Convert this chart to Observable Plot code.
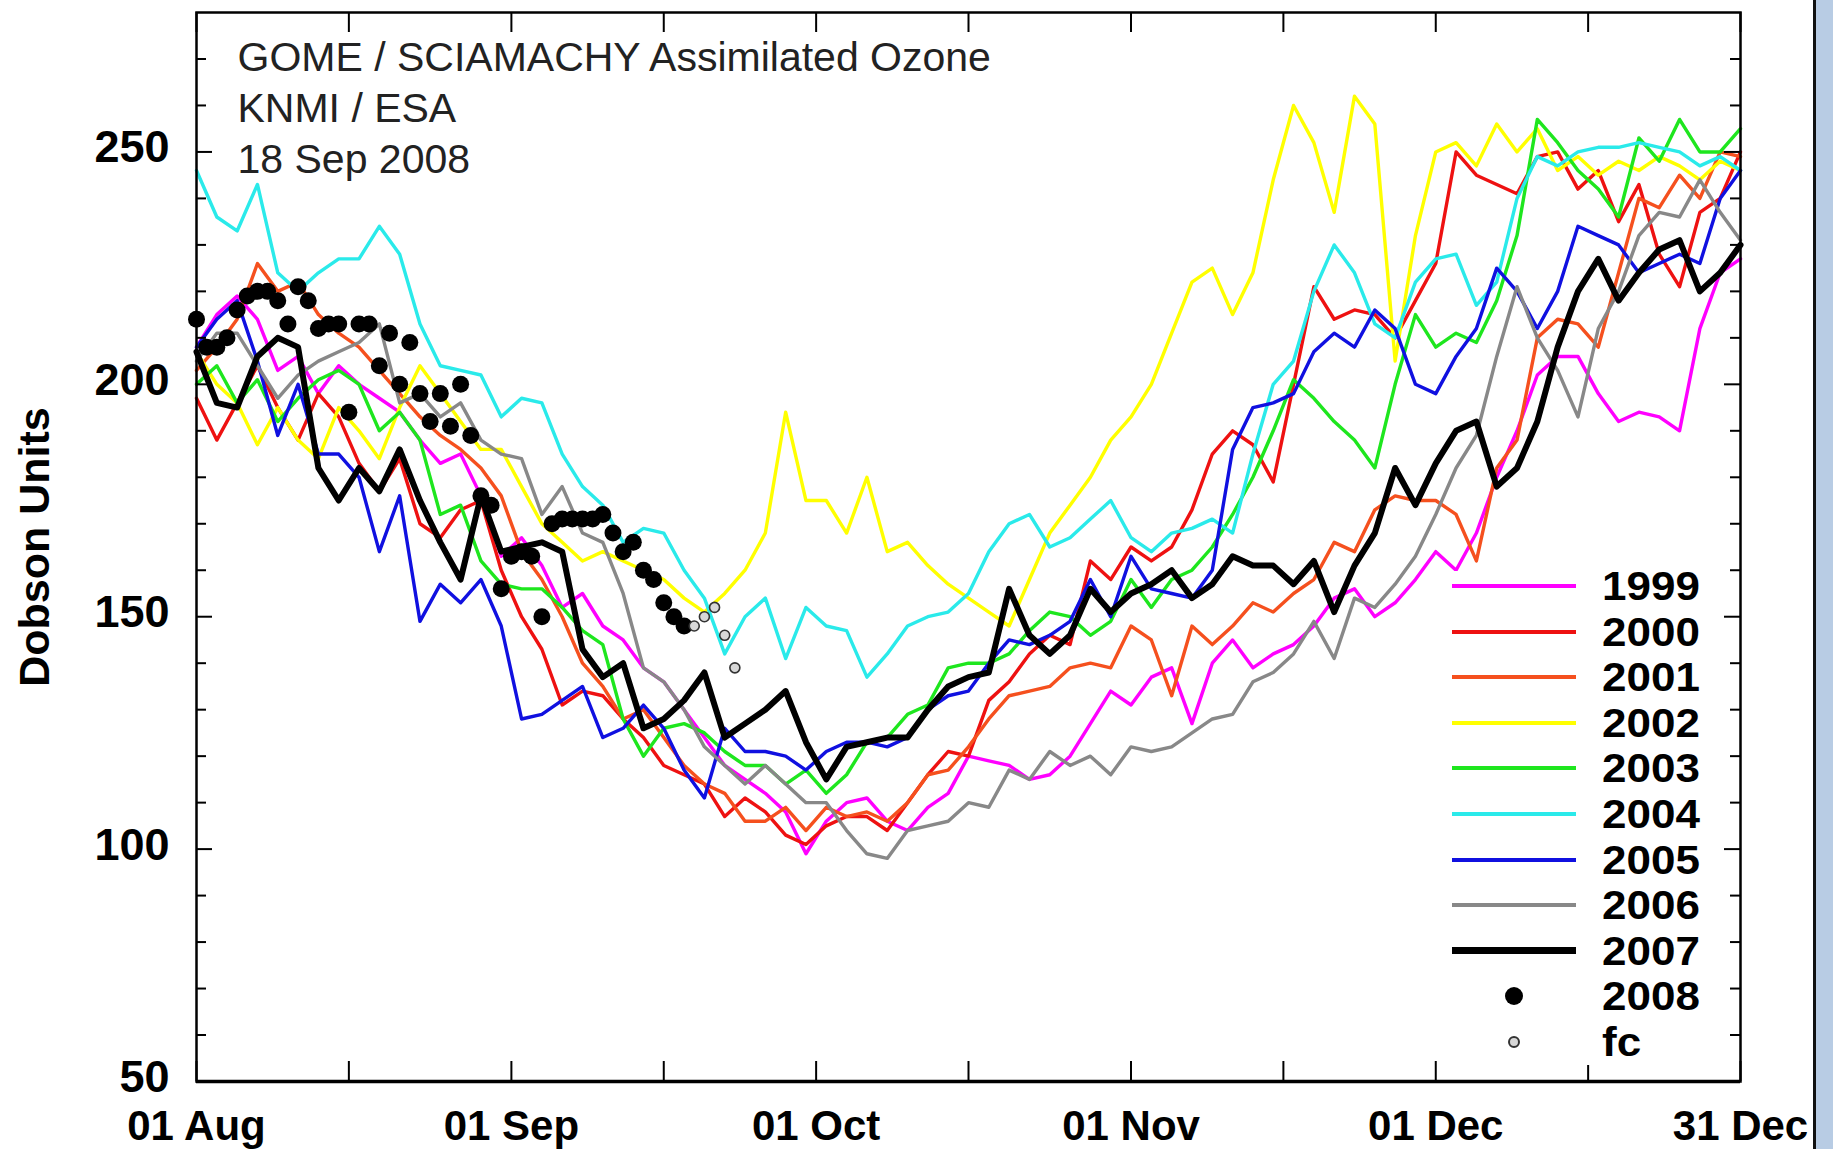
<!DOCTYPE html>
<html><head><meta charset="utf-8">
<script src="https://cdn.jsdelivr.net/npm/d3@7"></script>
<script src="https://cdn.jsdelivr.net/npm/@observablehq/plot@0.6"></script>
<style>
body{margin:0;background:#fff;}
#wrap{position:relative;width:1833px;height:1149px;overflow:hidden;font-family:"Liberation Sans",Arial,Helvetica,sans-serif;}
#strip{position:absolute;left:1813px;top:0;width:20px;height:1149px;background:#b8cce4;border-left:3px solid #111;box-sizing:border-box;}
#legbox{position:absolute;left:1447px;top:571px;width:266px;height:494px;background:#fff;}
.lrow{position:absolute;left:1452px;height:42px;width:260px;}
.ltxt{position:absolute;left:150px;top:0;line-height:42px;font-size:40px;font-weight:bold;color:#000;font-family:"Liberation Sans",Arial,sans-serif;transform:scaleX(1.1);transform-origin:left center;}
</style></head><body><div id="wrap"></div>
<script>
// day index: 0 = 01 Aug, 152 = 31 Dec (values every 2 days)
const days = [0,2,4,6,8,10,12,14,16,18,20,22,24,26,28,30,32,34,36,38,40,42,44,46,48,50,52,54,56,58,60,62,64,66,68,70,72,74,76,78,80,82,84,86,88,90,92,94,96,98,100,102,104,106,108,110,112,114,116,118,120,122,124,126,128,130,132,134,136,138,140,142,144,146,148,150,152];

const y1999 = [208,215,219,214,203,206,198,204,200,197,194, 188,183,185,176,163,167,161,152,155,148, 145,139,136,130,124,118,115,112,108,99, 106,110,111,106,104,109,112,120,119,118, 115,116,120,127,134,131,137,139,127,140, 145,139,142,144,148,154,156,150,153,158, 164,160,168,180,190,202,206,206,198,192, 194,193,190,212,224,227];
const y2000 = [197,188,196,204,195,188,198,193,183,177,184, 170,167,173,175,160,150,143,131,134,133, 128,124,118,116,114,107,111,108,103,101, 105,107,107,104,110,116,121,120,132,136, 142,146,144,162,158,165,162,165,173,185, 190,187,179,200,221,214,216,215,210,218, 226,250,245,243,241,249,250,242,246,235, 243,228,221,237,240,250];
const y2001 = [203,208,214,226,220,222,215,211,208,203,198, 193,189,186,182,176,164,158,150,140,135, 128,130,124,118,114,112,106,106,109,104, 109,107,108,106,110,116,117,122,128,133, 134,135,139,140,139,148,145,133,148,144, 148,153,151,155,158,166,164,173,176,175, 175,172,162,182,188,210,214,213,208,224, 240,238,245,240,250,249];
const y2002 = [207,200,196,187,195,188,184,195,190,184,195, 204,198,192,186,186,178,170,166,162,164, 162,160,158,154,151,155,160,168,194,175, 175,168,180,164,166,161,157,154,151,148, 158,168,174,180,188,193,200,211,222,225, 215,224,244,260,252,237,262,256,205,232, 250,252,247,256,250,255,246,249,245,248, 246,249,247,244,248,246];
const y2003 = [200,204,196,201,192,197,201,203,200,190,194, 188,172,174,162,157,156,156,152,147,144, 128,120,126,127,125,121,118,118,114,117, 112,116,123,124,129,131,139,140,140,142, 147,151,150,146,149,158,152,158,160,165, 172,180,190,201,197,192,188,182,200,215, 208,211,209,218,232,257,252,246,242,236, 253,248,257,250,250,255];
const y2004 = [246,236,233,243,224,220,224,227,227,234,228, 213,204,203,202,193,197,196,185,178,174, 166,169,168,160,154,142,150,154,141,152, 148,147,137,142,148,150,151,155,164,170, 172,165,167,171,175,167,164,168,169,171, 168,185,200,205,220,230,224,213,210,222, 227,228,217,222,240,249,247,250,251,251, 252,251,250,247,249,246];
const y2005 = [208,214,218,205,189,200,185,185,180,164,176, 149,157,153,158,148,128,129,132,135,124, 126,131,126,117,111,126,121,121,120,117, 121,123,123,122,124,130,133,134,140,145, 144,146,149,158,150,163,156,155,154,160, 186,195,196,198,207,211,208,216,212,200, 198,206,212,225,220,212,220,234,232,230, 224,226,228,226,240,246];
const y2006 = [205,211,211,204,197,202,205,207,209,213,196, 198,193,196,188,185,184,172,178,168,166, 155,139,136,130,122,118,114,118,114,110, 110,104,99,98,104,105,106,110,109,117, 115,121,118,120,116,122,121,122,125,128, 129,136,138,142,149,141,154,152,157,163, 172,182,189,206,221,210,203,193,212,220, 232,237,236,244,237,231];
const y2007 = [207,196,195,206,210,208,182,175,182,177,186, 175,166,158,176,164,165,166,164,143,137, 140,126,128,132,138,124,127,130,134,123, 115,122,123,124,124,130,135,137,138,156, 146,142,146,156,151,155,157,160,154,157, 163,161,161,157,162,151,161,168,182,174, 183,190,192,178,182,192,208,220,227,218, 224,229,231,220,224,230];

// 2008 daily observations (day 0..48) and forecast
const days2008 = [0,1,2,3,4,5,6,7,8,9,10,11,12,13,14,15,16,17,18,19,20,21,22,23,24,25,26,27,28,29,30,31,32,33,34,35,36,37,38,39,40,41,42,43,44,45,46,47,48];
const v2008 = [214,208,208,210,216,219,220,220,218,213, 221,218,212,213,213,194,213,213,204,211, 200,209,198,192,198,191,200,189,176,174, 156,163,164,163,150,170,171,171,171,171, 172,168,164,166,160,158,153,150,148];
const daysFc = [49,50,51,52,53];
const vFc = [148,150,152,146,139];

const seriesNames = ["1999","2000","2001","2002","2003","2004","2005","2006","2007"];
const seriesColors = ["#ff00ff","#ee1111","#f5501e","#ffff00","#1ee61e","#2aeaea","#1010e0","#888888","#000000"];
const series = [y1999,y2000,y2001,y2002,y2003,y2004,y2005,y2006,y2007];

const xTicks = [0,15,31,46,61,76,92,107,122,137,152];
const xLabelDays = [0,31,61,92,122,152];
const xLabels = ["01 Aug","01 Sep","01 Oct","01 Nov","01 Dec","31 Dec"];
const yLabels = [50,100,150,200,250];
const yMinor = [60,70,80,90,110,120,130,140,160,170,180,190,210,220,230,240,260,270];
const titleLines = ["GOME / SCIAMACHY Assimilated Ozone","KNMI / ESA","18 Sep 2008"];
const yTitle = "Dobson Units";

const W = 1833, H = 1149, mL = 196, mR = 93, mT = 12, mB = 68;
const innerW = W - mL - mR, innerH = H - mT - mB;

const marks = [];
series.forEach((vals, i) => {
  const rows = days.map((d, j) => ({day: d, value: vals[j]}));
  marks.push(Plot.line(rows, {x: "day", y: "value", stroke: seriesColors[i], strokeWidth: i === 8 ? 6 : 3.4, strokeLinejoin: "round"}));
});
marks.push(Plot.dot(days2008.map((d, j) => ({day: d, value: v2008[j]})), {x: "day", y: "value", r: 8.5, fill: "#000"}));
marks.push(Plot.dot(daysFc.map((d, j) => ({day: d, value: vFc[j]})), {x: "day", y: "value", r: 5, fill: "#d8d8d8", stroke: "#333", strokeWidth: 1.6}));

// ticks (inward, on all four sides)
marks.push(Plot.tickX(xTicks, {x: d => d, insetTop: innerH - 20, stroke: "#000", strokeWidth: 2}));
marks.push(Plot.tickX(xTicks, {x: d => d, insetBottom: innerH - 20, stroke: "#000", strokeWidth: 2}));
marks.push(Plot.tickY(yLabels, {y: d => d, insetRight: innerW - 16, stroke: "#000", strokeWidth: 2}));
marks.push(Plot.tickY(yMinor, {y: d => d, insetRight: innerW - 10, stroke: "#000", strokeWidth: 2}));
marks.push(Plot.tickY(yLabels, {y: d => d, insetLeft: innerW - 16, stroke: "#000", strokeWidth: 2}));
marks.push(Plot.tickY(yMinor, {y: d => d, insetLeft: innerW - 10, stroke: "#000", strokeWidth: 2}));
marks.push(Plot.frame({stroke: "#000", strokeWidth: 2.5}));
marks.push(Plot.ruleY([50], {stroke: "#000", strokeWidth: 3.5}));

// labels
marks.push(Plot.text(yLabels, {y: d => d, text: d => String(d), frameAnchor: "left", textAnchor: "end", lineAnchor: "middle", dx: -27, dy: -4, fontSize: 45, fontWeight: "bold", fill: "#000"}));
marks.push(Plot.text(xLabelDays, {x: d => d, text: (d, i) => xLabels[i], frameAnchor: "bottom", textAnchor: "middle", lineAnchor: "middle", dy: 45.5, fontSize: 42, fontWeight: "bold", fill: "#000"}));
marks.push(Plot.text([titleLines.join("\n")], {text: d => d, frameAnchor: "top-left", dx: 41, dy: 22, lineAnchor: "top", textAnchor: "start", fontSize: 41, lineHeight: 1.25, fill: "#222"}));
marks.push(Plot.text([yTitle], {text: d => d, frameAnchor: "left", textAnchor: "middle", lineAnchor: "middle", dx: -161, rotate: -90, fontSize: 43, fontWeight: "bold", fill: "#000"}));

const chart = Plot.plot({
  width: W, height: H,
  marginLeft: mL, marginRight: mR, marginTop: mT, marginBottom: mB,
  x: {domain: [0, 152], axis: null},
  y: {domain: [50, 280], axis: null},
  style: {fontFamily: "Liberation Sans, Arial, Helvetica, sans-serif", background: "#fff", overflow: "visible"},
  marks
});

const wrap = document.getElementById("wrap");
wrap.appendChild(chart);

// legend (inside plot area, white box)
const box = document.createElement("div"); box.id = "legbox"; wrap.appendChild(box);
const entries = seriesNames.map((n, i) => ({label: n, kind: "line", color: seriesColors[i], w: i === 8 ? 7 : 4}))
  .concat([{label: "2008", kind: "dot"}, {label: "fc", kind: "ring"}]);
entries.forEach((e, i) => {
  const cy = 586 + i * 45.6;
  const row = document.createElement("div");
  row.className = "lrow";
  row.style.top = (cy - 21) + "px";
  const sym = document.createElement("div");
  sym.style.position = "absolute";
  if (e.kind === "line") {
    sym.style.cssText += `left:0;top:${21 - e.w / 2}px;width:124px;height:${e.w}px;background:${e.color};`;
  } else if (e.kind === "dot") {
    sym.style.cssText += `left:53px;top:12px;width:18px;height:18px;border-radius:50%;background:#000;`;
  } else {
    sym.style.cssText += `left:56px;top:15px;width:12px;height:12px;border-radius:50%;background:#d8d8d8;border:2px solid #333;box-sizing:border-box;`;
  }
  row.appendChild(sym);
  const t = document.createElement("span");
  t.className = "ltxt";
  t.textContent = e.label;
  row.appendChild(t);
  wrap.appendChild(row);
});
const strip = document.createElement("div"); strip.id = "strip"; wrap.appendChild(strip);
</script>
</body></html>
